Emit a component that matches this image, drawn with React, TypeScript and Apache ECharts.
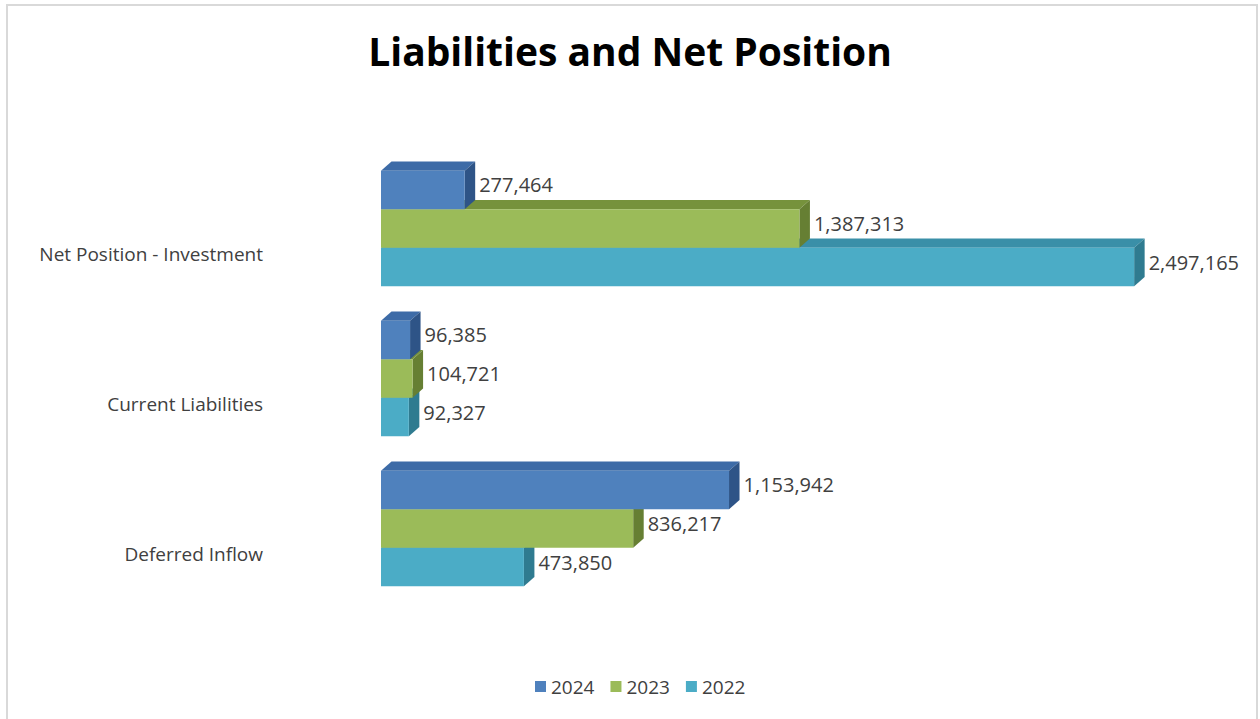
import React, { useEffect, useRef } from "react";
import * as echarts from "echarts";

const categories = ["Net Position - Investment", "Current Liabilities", "Deferred Inflow"];
const years = ["2024", "2023", "2022"];
const values2024 = [277464, 96385, 1153942];
const values2023 = [1387313, 104721, 836217];
const values2022 = [2497165, 92327, 473850];
const seriesValues = [values2024, values2023, values2022];

const frontColors = ["#4F81BD", "#9BBB59", "#4BACC6"];
const topColors = ["#3D6BA7", "#76923C", "#3A8FA8"];
const sideColors = ["#2E5487", "#667F33", "#2F7B90"];

const FONT = "'Open Sans', 'Noto Sans', sans-serif";

const fmt = (v: number) => v.toLocaleString("en-US");

export default function App() {
  const ref = useRef<HTMLDivElement>(null);
  useEffect(() => {
    if (!ref.current) return;
    const chart = echarts.init(ref.current, null, { renderer: "svg" });
    const series = years.map((year, idx) => ({
      name: year,
      type: "custom",
      z: 10 - idx,
      itemStyle: { color: frontColors[idx] },
      encode: { x: 0, y: 1 },
      data: seriesValues[idx].map((v, i) => [v, i]),
      renderItem: (params: any, api: any) => {
        const val = api.value(0);
        const ci = api.value(1);
        const end = api.coord([val, ci]);
        const start = api.coord([0, ci]);
        const band = api.size([0, 1])[1];
        const h = band * 0.257;
        const groupTop = end[1] - band * 0.17 - 1.5 * h;
        const y = groupTop + idx * h;
        const x0 = start[0];
        const x1 = end[0];
        const dx = band * 0.07;
        const dy = band * 0.062;
        return {
          type: "group",
          children: [
            {
              type: "polygon",
              shape: { points: [[x0, y], [x0 + dx, y - dy], [x1 + dx, y - dy], [x1, y]] },
              style: { fill: topColors[idx] },
            },
            {
              type: "polygon",
              shape: { points: [[x1, y], [x1 + dx, y - dy], [x1 + dx, y + h - dy], [x1, y + h]] },
              style: { fill: sideColors[idx] },
            },
            {
              type: "rect",
              shape: { x: x0, y, width: x1 - x0, height: h },
              style: { fill: frontColors[idx] },
            },
            {
              type: "text",
              style: {
                text: fmt(val),
                x: x1 + dx + 4,
                y: y + h / 2 - 5,
                verticalAlign: "middle",
                align: "left",
                fill: "#404040",
                fontSize: 20,
                fontFamily: FONT,
              },
            },
          ],
        };
      },
    }));
    chart.setOption({
      animation: false,
      backgroundColor: "#ffffff",
      title: {
        text: "Liabilities and Net Position",
        left: "center",
        top: 26,
        textStyle: { fontSize: 39, fontWeight: "bold", color: "#000000", fontFamily: FONT },
      },
      legend: {
        data: years,
        top: 672,
        left: 530,
        icon: "rect",
        itemWidth: 11,
        itemHeight: 11,
        itemGap: 16,
        textStyle: { fontSize: 19, color: "#404040", fontFamily: FONT },
      },
      grid: { left: 381, right: 125, top: 179, bottom: 90, containLabel: false },
      xAxis: {
        type: "value",
        min: 0,
        max: 2500000,
        show: false,
      },
      yAxis: {
        type: "category",
        data: categories,
        inverse: true,
        axisLine: { show: false },
        axisTick: { show: false },
        splitLine: { show: false },
        axisLabel: { margin: 118, fontSize: 19, color: "#404040", fontFamily: FONT },
      },
      graphic: [
        {
          type: "rect",
          shape: { x: 7, y: 5, width: 1250, height: 730 },
          style: { fill: "none", stroke: "#d9d9d9", lineWidth: 2 },
          silent: true,
        },
      ],
      series,
    });
    return () => chart.dispose();
  }, []);
  return <div ref={ref} style={{ position: "fixed", left: 0, top: 0, width: 1260, height: 719 }} />;
}
